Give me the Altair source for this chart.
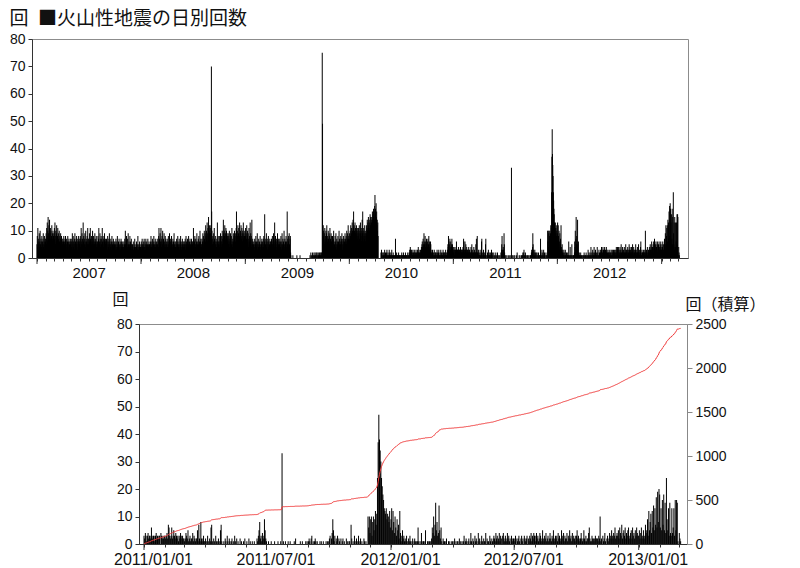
import altair as alt
import pandas as pd

# ---------------- daily counts 2007-2010 (upper panel only), one list per month ----------------
c2007 = [
    [5,8,4,11,6,3,7,5,9,4,6,10,5,3,7,6,4,8,5,6,3,7,9,4,5,6,8,3,5,7,6],
    [7,9,5,11,8,13,6,10,15,9,7,12,8,14,6,9,11,7,10,5,8,12,6,9,7,10,6,8],
    [9,6,11,7,13,8,5,10,6,9,12,7,5,8,11,6,9,7,4,10,6,8,5,7,9,6,4,8,5,7,6],
    [5,7,4,6,8,3,6,5,7,4,8,5,6,3,7,5,4,6,8,5,3,6,7,4,5,6,3,7,5,6],
    [6,4,7,5,9,3,6,8,4,6,5,7,3,9,5,6,4,7,5,8,4,6,3,7,5,6,8,4,6,5,7],
    [6,8,4,7,11,5,6,9,4,7,5,13,6,8,4,7,5,9,6,4,10,5,7,6,4,8,5,11,6,7],
    [5,7,4,9,6,5,11,7,4,6,8,5,7,4,10,6,5,8,4,7,6,5,9,4,6,7,5,8,4,6,5],
    [6,4,8,5,7,11,4,6,5,9,7,4,6,8,5,7,4,11,6,5,8,4,7,6,5,9,4,6,7,5,6],
    [5,7,4,6,3,8,5,6,4,7,5,9,3,6,5,4,7,5,6,3,8,4,5,6,4,7,5,3,6,5],
    [4,6,3,5,7,4,3,6,5,8,4,3,5,6,4,7,3,5,4,6,3,5,7,4,6,3,5,4,6,5,3],
    [4,6,3,5,7,4,10,5,3,6,8,4,5,3,7,4,9,5,3,6,4,5,8,3,6,4,5,7,3,5],
    [3,5,2,4,6,3,2,5,4,7,3,2,4,5,3,6,4,2,5,3,8,4,3,5,2,4,6,3,5,4,3],
]
c2008 = [
    [4,6,3,5,7,4,5,3,6,4,5,7,3,4,6,5,3,7,4,5,6,3,4,5,7,3,5,4,6,3,5],
    [5,3,6,4,8,5,4,6,3,7,5,4,6,5,8,3,5,4,6,7,4,5,3,6,5,4,7,5,4],
    [6,4,8,11,5,7,4,9,6,5,11,7,4,6,8,5,10,4,6,7,5,9,4,6,5,8,4,7,5,6,4],
    [5,7,4,6,3,8,5,6,4,9,5,3,6,7,4,5,8,4,6,3,5,7,4,6,5,9,4,5,6,3],
    [4,6,5,3,7,4,6,5,8,3,5,4,6,7,3,5,4,6,8,4,5,3,6,4,7,5,3,6,4,5,6],
    [5,4,6,7,3,5,8,4,6,5,3,7,4,6,5,8,4,3,6,5,7,4,5,6,3,7,5,4,6,5],
    [6,4,11,5,7,4,6,8,5,4,7,5,3,6,9,4,5,6,3,7,5,8,4,6,5,10,4,6,7,5,4],
    [5,7,4,6,9,5,8,4,6,10,7,5,9,6,12,8,5,10,7,13,6,9,11,8,15,7,10,12,9,8,11],
    [9,12,8,70,17,10,7,5,8,4,6,9,5,11,7,4,6,5,8,3,6,4,7,5,13,6,4,8,5,6],
    [6,4,8,5,7,9,5,6,4,8,6,10,5,7,8,14,9,6,10,8,12,7,9,6,11,8,10,7,9,6,8],
    [7,9,5,8,6,10,4,7,5,9,6,4,8,5,11,6,4,7,5,9,6,8,4,10,7,5,9,6,8,11],
    [17,9,6,10,8,12,7,9,11,6,8,13,7,9,10,6,12,8,7,11,9,6,10,8,13,7,9,6,8,10,7],
]
c2009 = [
    [8,11,6,9,7,12,5,8,10,6,9,4,7,11,5,8,6,13,7,9,5,8,4,14,6,5,7,3,6,5,4],
    [5,3,7,4,6,5,8,3,6,4,5,9,3,6,5,4,7,3,5,6,4,8,3,5,4,6,5,7],
    [4,6,3,5,7,4,8,5,6,16,4,7,5,3,6,9,4,5,7,3,6,5,8,4,6,3,5,7,4,6,5],
    [6,4,7,5,3,8,5,6,4,9,5,7,4,13,6,5,8,4,6,3,7,5,4,9,6,3,5,7,4,6],
    [5,7,3,6,4,8,5,3,6,9,4,5,7,3,6,4,10,5,3,7,4,6,5,8,3,6,4,17,5,7,4],
    [6,8,4,9,5,3,7,8,2,1,0,0,0,0,0,0,1,0,0,0,0,0,0,0,0,0,0,0,0,0],
    [1,0,0,0,0,0,0,0,0,0,0,1,0,0,0,0,0,0,0,0,0,0,0,0,0,0,0,0,0,0,0],
    [0,0,0,0,0,0,0,0,0,0,0,0,0,0,0,1,0,0,2,0,1,0,0,0,2,1,0,1,0,2,0],
    [1,0,2,1,0,1,2,0,1,2,0,1,0,2,1,0,1,2,1,0,2,1,0,2,1,2,0,75,49,12],
    [12,8,10,6,9,5,11,7,8,6,10,5,9,12,7,6,8,5,10,7,6,9,5,8,11,6,7,5,9,6,8],
    [6,4,8,5,3,7,10,4,6,5,3,8,4,6,9,5,3,7,4,6,5,8,3,6,4,10,5,7,4,6],
    [5,8,4,7,6,9,5,3,7,6,4,8,5,7,6,4,9,5,7,6,8,5,10,6,7,9,5,12,7,8,6],
]
c2010 = [
    [7,9,6,10,8,12,7,9,11,8,13,10,9,14,11,17,9,12,10,8,13,9,11,7,10,12,8,9,11,7,10],
    [8,11,6,9,12,7,10,5,13,9,8,11,6,10,14,9,17,8,11,6,10,9,7,12,8,10,6,9],
    [9,12,8,11,14,10,13,9,15,12,11,14,10,13,16,12,15,11,14,13,15,12,17,14,16,13,18,15,17,14,19],
    [23,16,18,14,20,15,17,12,14,10,13,8,0,0,0,0,0,0,0,0,0,2,0,3,0,2,1,0,2,0],
    [1,2,0,1,3,1,0,2,1,0,1,2,3,1,0,1,2,1,0,1,3,1,2,0,1,1,2,0,1,3,1],
    [1,0,1,2,1,0,1,1,0,1,1,7,1,0,1,2,1,0,1,1,0,1,2,1,0,1,1,0,1,0],
    [1,0,1,2,1,0,1,1,0,2,1,0,1,1,0,1,2,1,0,1,1,0,1,0,2,1,1,0,1,2,1],
    [3,2,4,3,2,1,3,2,1,2,1,3,1,2,1,2,3,1,2,1,2,1,3,1,2,1,2,3,1,2,4],
    [2,1,3,2,1,2,1,3,2,1,4,3,5,6,4,3,7,5,4,9,6,5,3,8,4,6,5,3,7,4],
    [5,6,4,7,3,5,8,4,6,3,5,4,6,5,3,2,1,2,1,3,2,1,0,2,1,3,1,0,2,1,2],
    [1,2,0,1,3,1,2,0,1,2,3,1,0,1,2,1,0,3,1,2,1,0,2,1,1,3,0,2,1,2],
    [1,2,1,0,3,1,2,1,0,2,1,3,5,4,8,3,6,5,2,7,4,3,6,2,5,4,7,3,5,2,4],
]
# ---------------- daily counts 2011-01-01 .. 2013-03-04 (both panels) ----------------
c2011 = [
    [3,2,4,3,1,3,4,2,3,3,2,6,3,2,3,3,1,3,4,2,3,2,3,3,0,4,3,2,3,2,3],
    [3,2,3,4,2,7,6,3,2,3,6,2,3,5,3,2,4,3,2,3,1,3,2,4,3,2,3,2],
    [2,1,2,4,3,2,5,1,2,3,1,2,2,4,1,3,2,1,2,2,5,1,7,2,1,8,2,1,2,3,1],
    [1,2,1,0,3,1,0,2,1,6,7,1,0,2,1,0,3,1,0,1,2,0,1,5,7,1,0,0,1,0],
    [2,1,0,3,1,0,2,1,0,1,2,0,1,0,3,1,0,2,0,1,0,0,2,0,1,0,0,1,0,2,0],
    [0,1,0,0,2,0,1,0,0,1,0,0,1,0,0,0,2,1,3,5,8,2,3,1,4,3,2,9,5,2],
    [1,0,0,1,0,0,0,1,0,0,0,0,1,0,0,0,0,1,0,0,0,1,0,33,0,1,0,0,1,0,0],
    [0,1,0,0,1,0,0,0,0,0,1,0,2,0,0,0,0,0,0,1,0,0,1,0,0,0,0,1,0,1,0],
    [1,2,1,0,2,3,0,1,0,1,2,1,0,1,0,0,0,1,0,1,0,0,1,0,0,0,1,0,1,0],
    [1,2,3,0,2,4,9,5,1,3,0,2,1,3,0,2,1,0,2,0,1,2,0,1,0,0,2,0,1,0,1],
    [1,0,7,2,0,1,0,3,1,0,2,1,0,3,0,1,2,0,1,0,0,2,1,0,1,0,0,10,6,10],
    [4,9,10,3,8,10,5,9,12,7,11,24,37,47,38,34,30,24,21,18,16,13,12,11,13,9,11,10,8,12,6],
]
c2012 = [
    [9,13,5,12,8,4,10,6,3,9,5,7,2,12,4,3,1,5,2,3,1,2,1,3,1,0,2,1,3,1,0],
    [1,2,0,1,2,1,0,1,1,6,1,0,1,0,4,0,1,1,1,0,5,0,0,1,1,0,1,1,0],
    [2,6,4,10,3,7,15,5,8,3,4,14,5,2,6,1,0,2,1,1,0,1,2,0,0,1,1,0,0,1,0],
    [1,0,1,2,0,1,0,1,1,0,2,0,1,0,1,0,1,3,0,1,2,1,0,1,2,0,1,4,1,0],
    [2,1,0,3,1,2,1,0,4,1,2,0,1,3,1,0,2,1,1,4,0,2,1,1,0,3,1,2,0,1,2],
    [3,2,1,4,2,3,1,2,4,1,3,2,0,3,4,2,1,3,2,1,4,2,3,1,2,0,3,2,1,2],
    [2,1,3,0,2,1,2,3,1,0,2,3,1,2,0,3,2,1,2,3,0,2,1,3,2,4,1,3,2,4,3],
    [3,1,4,2,3,1,2,4,3,1,2,5,2,1,3,2,4,1,2,3,1,2,4,2,1,3,2,5,1,2,3],
    [2,3,1,4,2,3,2,1,5,3,2,4,1,3,2,2,4,1,3,2,5,2,3,1,4,2,3,2,1,3],
    [3,5,2,3,1,2,2,4,2,1,2,5,2,1,3,1,2,2,4,6,2,1,1,3,2,2,1,2,3,2,2],
    [2,1,3,2,10,1,2,0,3,1,2,4,1,0,2,3,1,2,4,3,2,5,3,2,4,3,6,2,3,4],
    [3,5,2,6,4,3,7,2,4,5,3,6,2,4,3,5,6,2,3,4,5,2,6,3,4,2,5,3,6,4,3],
]
c2013 = [
    [3,5,2,4,6,2,3,5,2,3,7,4,5,9,3,12,5,8,11,4,12,6,14,5,13,7,17,6,19,8,20],
    [18,6,13,5,16,7,18,5,15,4,24,9,5,13,3,15,4,3,13,4,6,13,3,16,5,16,15,1],
    [0,4,2,1],
]

top_year_labels = ["2007", "2008", "2009", "2010", "2011", "2012"]
bottom_labels = ["2011/01/01", "2011/07/01", "2012/01/01", "2012/07/01", "2013/01/01"]
left_ticks = [0, 10, 20, 30, 40, 50, 60, 70, 80]
right_ticks = [0, 500, 1000, 1500, 2000, 2500]
top_heading = "回\u2002■火山性地震の日別回数"

FONT_JP = "Noto Sans CJK JP"
FONT_NUM = "Liberation Sans"
FONT_X = "Liberation Sans Narrow, Liberation Sans"
AXC = "#333333"


def flat(year_lists):
    out = []
    for y in year_lists:
        for m in y:
            out.extend(m)
    return out


old_vals = flat([c2007, c2008, c2009, c2010])
new_vals = flat([c2011, c2012, c2013])
old_df = pd.DataFrame({"date": pd.date_range("2007-01-01", periods=len(old_vals), freq="D"), "count": old_vals})
new_df = pd.DataFrame({"date": pd.date_range("2011-01-01", periods=len(new_vals), freq="D"), "count": new_vals})
top_df = pd.concat([old_df, new_df], ignore_index=True)


def dt(ts):
    return alt.DateTime(year=ts.year, month=ts.month, date=ts.day)


# ---------------- upper panel ----------------
top_months = [dt(t) for t in pd.date_range("2007-01-01", "2013-03-01", freq="MS")]
top_major_df = pd.DataFrame({"date": pd.to_datetime([f"{int(y)}-01-01" for y in top_year_labels] + ["2013-01-01"])})

top_x = alt.X(
    "date:T",
    scale=alt.Scale(domain=[alt.DateTime(year=2007, month=1, date=1), alt.DateTime(year=2013, month=3, date=17)]),
    axis=alt.Axis(values=top_months, tickSize=3, labelExpr="month(datum.value) == 6 ? timeFormat(datum.value, '%Y') : ''",
                  labelFont=FONT_X, labelFontSize=15, labelColor="#111", labelPadding=4, labelOverlap=False,
                  labelFlush=False, title=None, grid=False, domainColor=AXC, tickColor=AXC),
)

top_bars = alt.Chart(top_df).transform_filter("datum.count > 0").mark_bar(size=1, color="black").encode(
    x=top_x,
    y=alt.Y("count:Q", scale=alt.Scale(domain=[0, 80], nice=False),
            axis=alt.Axis(values=left_ticks, title=top_heading, titleAngle=0, titleX=-23, titleY=-21,
                          titleAlign="left", titleBaseline="middle", titleFont=FONT_JP, titleFontSize=19,
                          titleFontWeight="normal", titleColor="#111", labelFont=FONT_NUM, labelFontSize=14,
                          labelColor="#111", tickSize=4, labelPadding=3, grid=False, domainColor=AXC, tickColor=AXC)),
)
top_major = alt.Chart(top_major_df).mark_rule(color=AXC).encode(x=top_x, y=alt.value(219), y2=alt.value(225))

top = alt.layer(top_bars, top_major).properties(width=656, height=219)

# ---------------- lower panel ----------------
bot_months = [dt(t) for t in pd.date_range("2011-01-01", "2013-03-01", freq="MS")]
bot_major_df = pd.DataFrame({"date": pd.to_datetime([s.replace("/", "-") for s in bottom_labels])})

bot_x = alt.X(
    "date:T",
    scale=alt.Scale(domain=[alt.DateTime(year=2011, month=1, date=1), alt.DateTime(year=2013, month=3, date=6)]),
    axis=alt.Axis(values=bot_months, tickSize=3,
                  labelExpr="month(datum.value) % 6 == 0 ? timeFormat(datum.value, '%Y/%m/%d') : ''",
                  labelFont=FONT_X, labelFontSize=16, labelColor="#111", labelPadding=4, labelOffset=9,
                  labelOverlap=False, labelFlush=False, title=None, grid=False, domainColor=AXC, tickColor=AXC),
)

bot_bars = alt.Chart(new_df).transform_filter("datum.count > 0").mark_bar(size=1, color="black").encode(
    x=bot_x,
    y=alt.Y("count:Q", scale=alt.Scale(domain=[0, 80], nice=False),
            axis=alt.Axis(values=left_ticks, title="回", titleAngle=0, titleX=-19, titleY=-25, titleAlign="center",
                          titleBaseline="middle", titleFont=FONT_JP, titleFontSize=16, titleFontWeight="normal",
                          titleColor="#111", labelFont=FONT_NUM, labelFontSize=14, labelColor="#111", tickSize=4,
                          labelPadding=3, grid=False, domainColor=AXC, tickColor=AXC)),
)
bot_line = alt.Chart(new_df).transform_window(
    cum="sum(count)", frame=[None, 0], sort=[alt.SortField("date", order="ascending")]
).mark_line(color="#f03c3c", strokeWidth=1).encode(
    x=bot_x,
    y=alt.Y("cum:Q", scale=alt.Scale(domain=[0, 2500], nice=False),
            axis=alt.Axis(orient="right", values=right_ticks, format="d", title="回（積算）", titleAngle=0, titleX=-2,
                          titleY=-20, titleAlign="left", titleBaseline="middle", titleFont=FONT_JP, titleFontSize=16,
                          titleFontWeight="normal", titleColor="#111", labelFont=FONT_NUM, labelFontSize=14,
                          labelColor="#111", tickSize=5, labelPadding=3, grid=False, domainColor="#888888",
                          tickColor="#888888")),
)
bot_major = alt.Chart(bot_major_df).mark_rule(color=AXC).encode(x=bot_x, y=alt.value(220), y2=alt.value(226))

bottom = alt.layer(bot_bars, bot_line, bot_major).resolve_scale(y="independent").properties(width=548, height=220)

spacer = alt.Chart(pd.DataFrame({"v": [0]})).mark_point(opacity=0).encode(
    x=alt.X("v:Q", axis=None), y=alt.Y("v:Q", axis=None)
).properties(width=107, height=220, view=alt.ViewBackground(strokeOpacity=0))

bottom_row = alt.hconcat(spacer, bottom, spacing=0, bounds="flush")

chart = alt.vconcat(top, bottom_row, spacing=66, bounds="flush").properties(
    padding={"left": 0, "top": 0, "right": 5, "bottom": 5}
).configure_view(stroke="#8c8c8c", strokeWidth=1)

chart.save("out.html", embed_options={"renderer": "svg", "actions": False})
